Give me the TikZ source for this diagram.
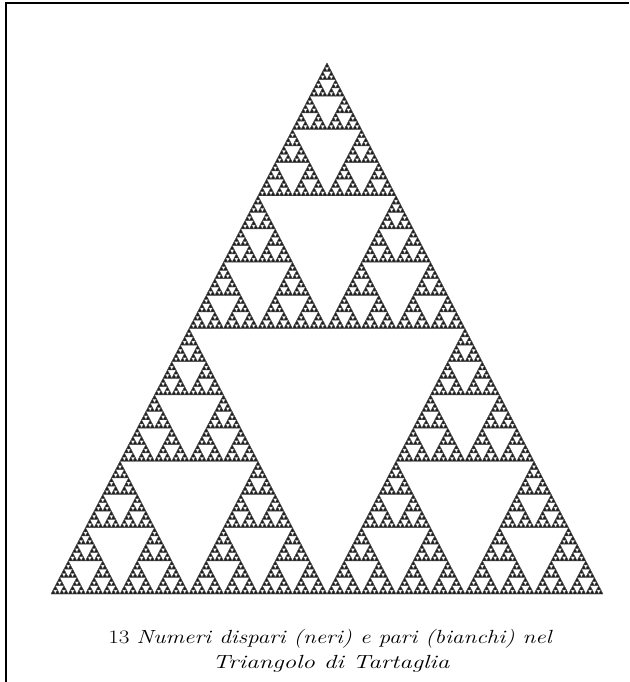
\documentclass[tikz,border=0pt]{standalone}
\usepackage{fontspec}
\newfontfamily\capfont[FakeStretch=1.22]{Latin Modern Roman}
\newfontfamily\capfontb[FakeStretch=1.32]{Latin Modern Roman}
\tikzset{
  sierfill/.style={fill=black!88, draw=black!70, line width=0.45pt, line join=round},
  framerule/.style={line width=2.4pt, draw=black},
  captext/.style={anchor=base, inner sep=0pt, font=\capfont\fontsize{19}{24}\selectfont},
  captextb/.style={anchor=base, inner sep=0pt, font=\capfontb\fontsize{19}{24}\selectfont}
}
\newcommand\sierp[5]{%
  \ifnum#1=0\relax
    \filldraw[sierfill] (#2,#3) -- ++(#4,0) -- ++(-#4/2,-#5) -- cycle;
  \else
    \begingroup
    \pgfmathsetmacro\hw{#4/2}%
    \pgfmathsetmacro\hh{#5/2}%
    \pgfmathsetmacro\xr{#2+\hw}%
    \pgfmathsetmacro\xt{#2+\hw/2}%
    \pgfmathsetmacro\yt{#3-\hh}%
    \pgfmathtruncatemacro\dd{#1-1}%
    \edef\sx{#2}\edef\sy{#3}%
    \edef\tmp{\noexpand\sierp{\dd}{\sx}{\sy}{\hw}{\hh}%
      \noexpand\sierp{\dd}{\xr}{\sy}{\hw}{\hh}%
      \noexpand\sierp{\dd}{\xt}{\yt}{\hw}{\hh}}%
    \tmp
    \endgroup
  \fi}
\begin{document}
\begin{tikzpicture}[x=1pt,y=-1pt]
\useasboundingbox (0,0) rectangle (629,682);
\fill[white] (0,0) rectangle (629,682);
\draw[framerule] (6,682) -- (6,3.2) -- (629,3.2);
\sierp{7}{51}{594}{552}{531}
\node[captext] (cap1) at (330,643) {13 \itshape Numeri dispari (neri) e pari (bianchi) nel};
\node[captextb] (cap2) at (331,668) {\itshape Triangolo di Tartaglia};
\end{tikzpicture}
\end{document}
